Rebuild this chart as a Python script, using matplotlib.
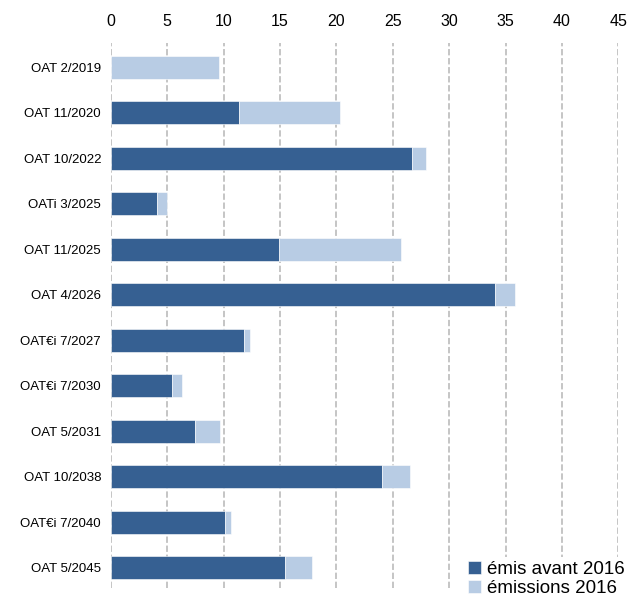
import numpy as np
import matplotlib.pyplot as plt

plt.rcParams['font.family'] = ['Liberation Sans', 'DejaVu Sans']

# data (Md EUR)
bonds = ['OAT 2/2019', 'OAT 11/2020', 'OAT 10/2022', 'OATi 3/2025',
         'OAT 11/2025', 'OAT 4/2026', 'OAT\u20aci 7/2027', 'OAT\u20aci 7/2030',
         'OAT 5/2031', 'OAT 10/2038', 'OAT\u20aci 7/2040', 'OAT 5/2045']
avant_2016 = [0.0, 11.4, 26.7, 4.1, 14.9, 34.1, 11.8, 5.4, 7.5, 24.0, 10.1, 15.4]
emis_2016 = [9.6, 8.9, 1.2, 0.9, 10.8, 1.7, 0.5, 0.9, 2.2, 2.5, 0.6, 2.4]
xticks = [0, 5, 10, 15, 20, 25, 30, 35, 40, 45]

dark = '#366092'
light = '#B8CCE4'

fig = plt.figure(figsize=(6.33, 5.98), dpi=100)
ax = fig.add_axes([0.175, 0.017, 0.802, 0.911])

y = np.arange(len(bonds))
ax.barh(y, avant_2016, height=0.5, color=dark, edgecolor='white',
        linewidth=0.4, label='émis avant 2016', zorder=3)
ax.barh(y, emis_2016, left=avant_2016, height=0.5, color=light,
        edgecolor='white', linewidth=0.4, label='émissions 2016', zorder=3)

ax.set_xlim(0, 45)
ax.set_ylim(len(bonds) - 0.56, -0.53)
ax.set_xticks(xticks)
ax.set_yticks(y)
ax.set_yticklabels(bonds, fontsize=9.5)
ax.xaxis.tick_top()
ax.tick_params(axis='x', length=0, pad=10, labelsize=11.5)
ax.tick_params(axis='y', length=0, pad=7)
for s in ax.spines.values():
  s.set_visible(False)
ax.grid(axis='x', color='#C0C0C0', linestyle=(0, (3.5, 1.5)), linewidth=1.3, zorder=0)

leg = fig.legend(loc='lower right', bbox_to_anchor=(1.008, -0.02), fontsize=13.5,
                 frameon=True, facecolor='white', edgecolor='none', framealpha=1,
                 handlelength=0.7, handleheight=0.7, handletextpad=0.35,
                 labelspacing=0.1, borderpad=0.2)

fig.savefig('out.png', dpi=100)
